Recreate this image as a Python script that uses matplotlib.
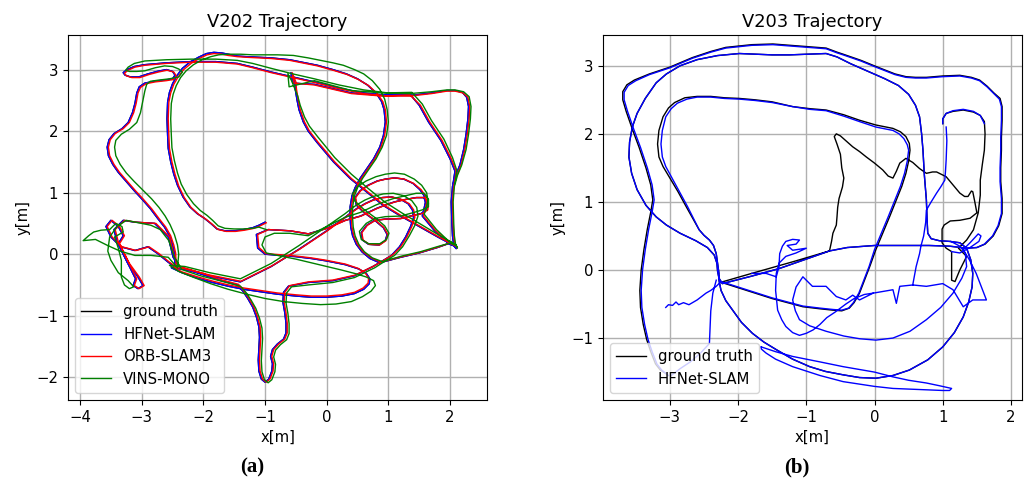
import numpy as np
import matplotlib.pyplot as plt

nan = np.nan

# ---- V202 trajectories (x, y in m) ----
v202_gt = [
    (-1.00, 0.52), (-1.10, 0.47), (-1.20, 0.43), (-1.35, 0.40), (-1.50, 0.38), (-1.65, 0.38),
    (-1.78, 0.41), (-1.88, 0.50), (-1.98, 0.58), (-2.10, 0.66), (-2.22, 0.77), (-2.33, 0.93),
    (-2.42, 1.12), (-2.48, 1.30), (-2.53, 1.50), (-2.57, 1.72), (-2.58, 1.93), (-2.59, 2.20),
    (-2.58, 2.47), (-2.55, 2.63), (-2.50, 2.77), (-2.43, 2.90), (-2.34, 3.02), (-2.22, 3.12),
    (-2.08, 3.20), (-1.95, 3.26), (-1.83, 3.28), (-1.70, 3.27), (-1.60, 3.25), (-1.45, 3.22),
    (-1.30, 3.21), (-1.10, 3.20), (-0.90, 3.19), (-0.60, 3.16), (-0.40, 3.12), (-0.15, 3.07),
    (0.10, 3.00), (0.32, 2.93), (0.50, 2.85), (0.66, 2.75), (0.80, 2.62), (0.89, 2.48),
    (0.93, 2.35), (0.95, 2.15), (0.92, 1.93), (0.86, 1.74), (0.76, 1.55), (0.65, 1.39),
    (0.54, 1.23), (0.46, 1.08), (0.41, 0.95), (0.38, 0.77), (0.38, 0.58), (0.39, 0.44),
    (0.42, 0.30), (0.48, 0.16), (0.57, 0.04), (0.70, -0.07), (0.86, -0.14),
    (1.20, -0.05), (1.50, 0.02), (1.80, 0.11), (1.97, 0.17), (2.08, 0.13), (2.10, 0.09),
    (2.06, 0.14), (2.04, 0.30), (2.03, 0.50), (2.02, 0.85), (2.04, 1.10), (2.09, 1.28),
    (2.16, 1.45), (2.22, 1.70), (2.26, 1.95), (2.29, 2.20), (2.30, 2.40), (2.27, 2.55),
    (2.20, 2.63), (2.08, 2.66), (1.95, 2.66), (1.70, 2.62), (1.35, 2.58), (1.00, 2.58),
    (0.60, 2.62), (0.20, 2.70), (-0.20, 2.80), (-0.55, 2.88), (-0.90, 2.96), (-1.20, 3.04),
    (-1.45, 3.10), (-1.80, 3.13), (-2.20, 3.13), (-2.60, 3.11), (-2.95, 3.08),
    (-3.12, 3.05), (-3.24, 3.00), (-3.30, 2.95), (-3.27, 2.91), (-3.18, 2.88), (-3.05, 2.88),
    (-2.90, 2.93), (-2.75, 2.97), (-2.60, 3.00), (-2.50, 2.97), (-2.46, 2.91), (-2.50, 2.85),
    (-2.62, 2.83), (-2.80, 2.81), (-2.95, 2.78), (-3.04, 2.72), (-3.08, 2.62), (-3.11, 2.45),
    (-3.15, 2.30), (-3.22, 2.14), (-3.32, 2.04), (-3.45, 1.96), (-3.53, 1.86), (-3.56, 1.74),
    (-3.54, 1.60), (-3.47, 1.46), (-3.38, 1.33), (-3.25, 1.18), (-3.12, 1.03), (-3.00, 0.90),
    (-2.86, 0.74), (-2.74, 0.58), (-2.63, 0.44), (-2.55, 0.30), (-2.50, 0.15), (-2.47, 0.02),
    (-2.46, -0.21),
    (-2.57, -0.13), (-2.74, 0.01), (-2.90, 0.12), (-3.11, 0.06), (-3.34, 0.12), (-3.50, 0.28),
    (-3.58, 0.45), (-3.50, 0.55), (-3.38, 0.45), (-3.30, 0.30), (-3.38, 0.17), (-3.22, -0.15),
    (-3.06, -0.37), (-2.98, -0.51), (-3.06, -0.56), (-3.14, -0.51), (-3.10, -0.40), (-3.25, -0.10),
    (-3.40, 0.20), (-3.45, 0.40), (-3.30, 0.55), (-3.11, 0.52), (-2.79, 0.50), (-2.57, 0.28),
    (-2.49, -0.05), (-2.40, -0.20),
    (-2.10, -0.30), (-1.75, -0.42), (-1.45, -0.50), (-1.36, -0.60), (-1.28, -0.72), (-1.20, -0.86),
    (-1.14, -1.02), (-1.10, -1.18), (-1.09, -1.35), (-1.10, -1.55), (-1.11, -1.72), (-1.10, -1.90),
    (-1.06, -2.03), (-1.00, -2.08), (-0.94, -2.03), (-0.89, -1.90), (-0.88, -1.78), (-0.91, -1.66),
    (-0.88, -1.55), (-0.80, -1.46), (-0.70, -1.38), (-0.66, -1.28), (-0.66, -1.12), (-0.68, -0.95),
    (-0.71, -0.78), (-0.70, -0.62), (-0.62, -0.52), (-0.30, -0.46), (0.10, -0.43), (0.45, -0.35),
    (0.75, -0.20), (0.92, -0.10), (1.05, -0.02), (1.18, 0.12), (1.28, 0.28), (1.36, 0.45),
    (1.41, 0.60), (1.39, 0.72), (1.32, 0.82), (1.20, 0.89), (1.05, 0.93), (0.90, 0.92),
    (0.75, 0.88), (0.62, 0.82), (0.50, 0.75), (0.40, 0.68), (0.30, 0.60), (0.00, 0.38),
    (-0.45, 0.08), (-0.90, -0.20), (-1.40, -0.45), (-1.90, -0.35), (-2.30, -0.25), (-2.52, -0.22),
    (-2.35, -0.30), (-2.10, -0.39), (-1.85, -0.46), (-1.60, -0.52), (-1.35, -0.57), (-1.08, -0.61),
    (-0.80, -0.65), (-0.50, -0.68), (-0.25, -0.70), (0.00, -0.70), (0.25, -0.68), (0.45, -0.64),
    (0.60, -0.57), (0.69, -0.48), (0.70, -0.40), (0.64, -0.31), (0.52, -0.24), (0.30, -0.17),
    (0.00, -0.11), (-0.25, -0.07), (-0.50, -0.04), (-0.75, -0.02), (-1.00, 0.00), (-1.12, 0.10),
    (-1.14, 0.32), (-0.95, 0.40), (-0.60, 0.38), (-0.30, 0.33), (0.00, 0.42),
    (0.30, 0.55), (0.55, 0.62), (0.80, 0.74), (0.95, 0.80), (1.10, 0.85), (1.28, 0.89),
    (1.45, 0.92), (1.57, 0.92), (1.63, 0.83), (1.62, 0.72), (1.53, 0.66), (1.40, 0.63),
    (1.20, 0.58), (0.95, 0.57), (0.78, 0.55), (0.65, 0.47), (0.56, 0.35), (0.58, 0.23),
    (0.68, 0.16), (0.85, 0.15), (0.95, 0.22), (0.98, 0.32), (0.92, 0.43), (0.78, 0.55),
    (0.60, 0.68), (0.48, 0.80), (0.46, 0.92), (0.54, 1.03), (0.67, 1.12), (0.82, 1.19),
    (0.95, 1.22), (1.10, 1.24), (1.25, 1.22), (1.40, 1.15), (1.51, 1.05), (1.58, 0.95),
    (1.60, 0.84), (1.57, 0.70), (1.55, 0.62), (1.75, 0.38), (1.95, 0.20), (2.08, 0.13),
    (1.80, 0.28), (1.50, 0.45), (1.20, 0.62), (0.92, 0.79), (0.65, 1.01), (0.38, 1.23),
    (0.11, 1.50), (-0.16, 1.82), (-0.30, 2.00), (-0.38, 2.15), (-0.45, 2.35), (-0.48, 2.50),
    (-0.51, 2.68), (-0.52, 2.80), (-0.58, 2.95), (-0.55, 2.78),
    (-0.20, 2.76), (0.40, 2.62), (0.90, 2.58), (1.35, 2.60), (1.50, 2.42), (1.65, 2.15),
    (1.85, 1.85), (2.00, 1.55), (2.08, 1.35), (2.05, 1.15),
]

# HFNet-SLAM sits on the ground truth at this scale
v202_hfnet = list(v202_gt)

v202_orb = [
    (-0.98, 0.51), (-1.08, 0.46), (-1.18, 0.42), (-1.33, 0.39), (-1.48, 0.37), (-1.63, 0.37),
    (-1.76, 0.40), (-1.86, 0.49), (-1.96, 0.57), (-2.08, 0.65), (-2.20, 0.76), (-2.31, 0.92),
    (-2.40, 1.11), (-2.46, 1.30), (-2.51, 1.50), (-2.55, 1.72), (-2.56, 1.93), (-2.57, 2.20),
    (-2.56, 2.47), (-2.53, 2.62), (-2.48, 2.76), (-2.41, 2.88), (-2.32, 3.00), (-2.20, 3.10),
    (-2.07, 3.18), (-1.94, 3.24), (-1.83, 3.26), (-1.70, 3.25), (-1.60, 3.23), (-1.45, 3.21),
    (-1.30, 3.20), (-1.10, 3.19), (-0.90, 3.18), (-0.60, 3.15), (-0.40, 3.11), (-0.15, 3.06),
    (0.10, 2.99), (0.33, 2.92), (0.51, 2.84), (0.68, 2.74), (0.82, 2.61), (0.91, 2.48),
    (0.95, 2.35), (0.97, 2.15), (0.94, 1.93), (0.88, 1.74), (0.78, 1.55), (0.67, 1.39),
    (0.56, 1.23), (0.48, 1.08), (0.43, 0.95), (0.40, 0.77), (0.40, 0.58), (0.41, 0.44),
    (0.44, 0.30), (0.50, 0.16), (0.59, 0.04), (0.72, -0.06), (0.88, -0.13),
    (1.22, -0.04), (1.52, 0.03), (1.82, 0.12), (1.99, 0.18), (2.10, 0.14), (2.12, 0.10),
    (2.08, 0.15), (2.06, 0.30), (2.05, 0.50), (2.04, 0.85), (2.06, 1.10), (2.11, 1.28),
    (2.18, 1.45), (2.24, 1.70), (2.28, 1.95), (2.31, 2.20), (2.32, 2.40), (2.29, 2.55),
    (2.21, 2.62), (2.08, 2.65), (1.95, 2.65), (1.70, 2.61), (1.35, 2.57), (1.00, 2.57),
    (0.60, 2.61), (0.20, 2.69), (-0.20, 2.79), (-0.55, 2.87), (-0.90, 2.95), (-1.20, 3.03),
    (-1.45, 3.09), (-1.80, 3.12), (-2.20, 3.12), (-2.60, 3.10), (-2.95, 3.07),
    (-3.11, 3.04), (-3.22, 2.99), (-3.28, 2.94), (-3.25, 2.90), (-3.16, 2.87), (-3.03, 2.87),
    (-2.88, 2.92), (-2.73, 2.96), (-2.59, 2.99), (-2.48, 2.96), (-2.44, 2.90), (-2.48, 2.84),
    (-2.60, 2.82), (-2.78, 2.80), (-2.93, 2.77), (-3.02, 2.71), (-3.06, 2.62), (-3.09, 2.45),
    (-3.13, 2.30), (-3.20, 2.14), (-3.30, 2.04), (-3.43, 1.96), (-3.51, 1.86), (-3.54, 1.74),
    (-3.52, 1.60), (-3.45, 1.46), (-3.36, 1.33), (-3.23, 1.18), (-3.10, 1.03), (-2.98, 0.90),
    (-2.84, 0.74), (-2.72, 0.58), (-2.61, 0.44), (-2.53, 0.30), (-2.48, 0.15), (-2.45, 0.02),
    (-2.44, -0.21),
    (-2.55, -0.13), (-2.72, 0.01), (-2.88, 0.12), (-3.09, 0.06), (-3.32, 0.12), (-3.48, 0.28),
    (-3.56, 0.45), (-3.48, 0.55), (-3.36, 0.45), (-3.28, 0.30), (-3.36, 0.17), (-3.20, -0.15),
    (-3.04, -0.37), (-2.96, -0.51), (-3.04, -0.56), (-3.12, -0.51), (-3.08, -0.40), (-3.23, -0.10),
    (-3.38, 0.20), (-3.43, 0.40), (-3.28, 0.55), (-3.09, 0.52), (-2.77, 0.50), (-2.55, 0.28),
    (-2.47, -0.05), (-2.38, -0.20),
    (-2.08, -0.29), (-1.73, -0.41), (-1.43, -0.49), (-1.34, -0.60), (-1.26, -0.72), (-1.18, -0.86),
    (-1.12, -1.02), (-1.08, -1.18), (-1.07, -1.35), (-1.08, -1.55), (-1.09, -1.72), (-1.08, -1.90),
    (-1.04, -2.03), (-0.98, -2.08), (-0.92, -2.03), (-0.87, -1.90), (-0.86, -1.78), (-0.89, -1.66),
    (-0.86, -1.55), (-0.78, -1.46), (-0.68, -1.38), (-0.64, -1.28), (-0.64, -1.12), (-0.66, -0.95),
    (-0.69, -0.78), (-0.68, -0.62), (-0.60, -0.51), (-0.30, -0.45), (0.10, -0.42), (0.46, -0.34),
    (0.77, -0.19), (0.94, -0.09), (1.07, -0.01), (1.20, 0.12), (1.30, 0.28), (1.38, 0.45),
    (1.43, 0.60), (1.41, 0.72), (1.34, 0.82), (1.21, 0.89), (1.06, 0.93), (0.91, 0.92),
    (0.76, 0.88), (0.63, 0.82), (0.51, 0.75), (0.41, 0.68), (0.31, 0.60), (0.01, 0.38),
    (-0.44, 0.08), (-0.89, -0.19), (-1.39, -0.44), (-1.89, -0.34), (-2.29, -0.24), (-2.50, -0.21),
    (-2.34, -0.29), (-2.09, -0.37), (-1.84, -0.44), (-1.59, -0.50), (-1.34, -0.55), (-1.07, -0.59),
    (-0.80, -0.63), (-0.50, -0.66), (-0.25, -0.68), (0.00, -0.68), (0.25, -0.66), (0.45, -0.62),
    (0.59, -0.55), (0.67, -0.47), (0.68, -0.39), (0.62, -0.30), (0.51, -0.23), (0.30, -0.16),
    (0.00, -0.10), (-0.25, -0.06), (-0.50, -0.03), (-0.75, -0.01), (-0.99, 0.01), (-1.10, 0.11),
    (-1.12, 0.32), (-0.94, 0.40), (-0.59, 0.38), (-0.29, 0.33), (0.01, 0.42),
    (0.31, 0.55), (0.56, 0.62), (0.81, 0.74), (0.96, 0.80), (1.11, 0.85), (1.29, 0.89),
    (1.46, 0.92), (1.59, 0.92), (1.65, 0.83), (1.64, 0.72), (1.55, 0.66), (1.41, 0.63),
    (1.21, 0.58), (0.96, 0.57), (0.79, 0.55), (0.66, 0.47), (0.57, 0.35), (0.59, 0.23),
    (0.69, 0.16), (0.86, 0.15), (0.96, 0.22), (0.99, 0.32), (0.93, 0.43), (0.79, 0.55),
    (0.61, 0.68), (0.49, 0.80), (0.47, 0.92), (0.55, 1.03), (0.68, 1.12), (0.83, 1.19),
    (0.96, 1.22), (1.11, 1.24), (1.26, 1.22), (1.41, 1.15), (1.53, 1.05), (1.60, 0.95),
    (1.62, 0.84), (1.59, 0.70), (1.57, 0.62), (1.77, 0.38), (1.97, 0.20), (2.10, 0.13),
    (1.82, 0.28), (1.52, 0.45), (1.22, 0.62), (0.94, 0.79), (0.67, 1.01), (0.40, 1.23),
    (0.13, 1.50), (-0.14, 1.82), (-0.28, 2.00), (-0.36, 2.15), (-0.43, 2.35), (-0.46, 2.50),
    (-0.49, 2.68), (-0.50, 2.80), (-0.56, 2.95), (-0.53, 2.78),
    (-0.20, 2.75), (0.40, 2.61), (0.90, 2.57), (1.35, 2.59), (1.52, 2.42), (1.67, 2.15),
    (1.87, 1.85), (2.02, 1.55), (2.10, 1.35), (2.07, 1.15),
]

v202_vins = [
    (-0.98, 0.40), (-1.10, 0.44), (-1.20, 0.42), (-1.35, 0.41), (-1.50, 0.41), (-1.65, 0.42),
    (-1.76, 0.46), (-1.85, 0.55), (-1.94, 0.63), (-2.05, 0.71), (-2.16, 0.82), (-2.27, 0.97),
    (-2.36, 1.14), (-2.42, 1.32), (-2.47, 1.52), (-2.51, 1.73), (-2.52, 1.94), (-2.53, 2.20),
    (-2.52, 2.45), (-2.49, 2.60), (-2.44, 2.74), (-2.37, 2.87), (-2.28, 2.98), (-2.16, 3.08),
    (-2.02, 3.16), (-1.88, 3.21), (-1.75, 3.24), (-1.60, 3.25), (-1.40, 3.25), (-1.20, 3.24),
    (-1.00, 3.24), (-0.80, 3.24), (-0.54, 3.23), (-0.30, 3.19), (-0.10, 3.15), (0.10, 3.11),
    (0.27, 3.07), (0.45, 3.00), (0.60, 2.93), (0.74, 2.82), (0.86, 2.68), (0.94, 2.52),
    (0.98, 2.35), (1.00, 2.15), (0.97, 1.93), (0.90, 1.74), (0.80, 1.55), (0.69, 1.39),
    (0.58, 1.23), (0.50, 1.08), (0.45, 0.95), (0.42, 0.77), (0.42, 0.58), (0.43, 0.44),
    (0.46, 0.30), (0.52, 0.16), (0.61, 0.04), (0.74, -0.06), (0.90, -0.12),
    (1.22, -0.03), (1.52, 0.04), (1.82, 0.13), (2.00, 0.18), (2.10, 0.14), (2.12, 0.10),
    (2.09, 0.16), (2.07, 0.30), (2.06, 0.50), (2.05, 0.85), (2.07, 1.10), (2.12, 1.28),
    (2.19, 1.45), (2.26, 1.70), (2.30, 1.95), (2.33, 2.20), (2.34, 2.40), (2.31, 2.56),
    (2.22, 2.64), (2.08, 2.67), (1.95, 2.67), (1.70, 2.64), (1.35, 2.61), (1.00, 2.62),
    (0.60, 2.67), (0.20, 2.75), (-0.20, 2.85), (-0.55, 2.93), (-0.90, 3.02), (-1.20, 3.10),
    (-1.45, 3.15), (-1.80, 3.17), (-2.20, 3.17), (-2.60, 3.16), (-2.95, 3.14),
    (-3.12, 3.10), (-3.22, 3.04), (-3.26, 2.99), (-3.20, 2.97), (-3.08, 2.97), (-2.95, 2.98),
    (-2.78, 3.03), (-2.63, 3.06), (-2.50, 3.05), (-2.40, 3.01), (-2.34, 2.96), (-2.40, 2.88),
    (-2.55, 2.85), (-2.72, 2.83), (-2.86, 2.81), (-2.92, 2.76), (-2.95, 2.65), (-2.98, 2.50),
    (-3.02, 2.30), (-3.08, 2.14), (-3.20, 2.03), (-3.33, 1.95), (-3.42, 1.85), (-3.44, 1.74),
    (-3.42, 1.60), (-3.35, 1.46), (-3.25, 1.32), (-3.12, 1.18), (-2.98, 1.04), (-2.84, 0.90),
    (-2.72, 0.76), (-2.62, 0.62), (-2.54, 0.48), (-2.47, 0.32), (-2.42, 0.15), (-2.40, 0.00),
    (-2.42, -0.22),
    (-2.57, -0.05), (-2.85, -0.02), (-3.11, -0.02), (-3.35, 0.05), (-3.55, 0.14), (-3.75, 0.24),
    (-3.95, 0.22), (-3.86, 0.30), (-3.78, 0.36), (-3.66, 0.39), (-3.52, 0.40), (-3.42, 0.50),
    (-3.32, 0.45), (-3.30, 0.36), (-3.44, 0.28), (-3.38, 0.10), (-3.33, -0.10), (-3.33, -0.37),
    (-3.28, -0.50), (-3.20, -0.56), (-3.13, -0.53), (-3.22, -0.43), (-3.38, -0.30), (-3.50, -0.10),
    (-3.55, 0.05), (-3.52, 0.28), (-3.40, 0.45), (-3.25, 0.55), (-3.05, 0.51), (-2.85, 0.47),
    (-2.70, 0.40), (-2.56, 0.22), (-2.47, -0.05), (-2.35, -0.25),
    (-2.05, -0.35), (-1.70, -0.44), (-1.40, -0.52), (-1.31, -0.62), (-1.23, -0.74), (-1.15, -0.88),
    (-1.09, -1.04), (-1.05, -1.20), (-1.04, -1.37), (-1.05, -1.56), (-1.06, -1.73), (-1.05, -1.91),
    (-1.01, -2.04), (-0.95, -2.09), (-0.89, -2.04), (-0.84, -1.91), (-0.83, -1.79), (-0.86, -1.67),
    (-0.83, -1.56), (-0.75, -1.47), (-0.65, -1.39), (-0.61, -1.29), (-0.61, -1.13), (-0.63, -0.96),
    (-0.66, -0.79), (-0.65, -0.63), (-0.57, -0.53), (-0.30, -0.50), (0.10, -0.46), (0.45, -0.38),
    (0.78, -0.22), (0.95, -0.11), (1.10, -0.02), (1.23, 0.12), (1.34, 0.30), (1.43, 0.47),
    (1.48, 0.62), (1.46, 0.76), (1.38, 0.87), (1.25, 0.95), (1.08, 0.99), (0.92, 0.98),
    (0.76, 0.94), (0.62, 0.88), (0.50, 0.81), (0.40, 0.74), (0.30, 0.66), (0.00, 0.45),
    (-0.45, 0.14), (-0.90, -0.15), (-1.40, -0.40), (-1.90, -0.30), (-2.30, -0.20), (-2.55, -0.18),
    (-2.40, -0.28), (-2.15, -0.38), (-1.88, -0.48), (-1.60, -0.57), (-1.30, -0.65), (-1.00, -0.72),
    (-0.70, -0.77), (-0.40, -0.80), (-0.10, -0.82), (0.15, -0.81), (0.40, -0.77), (0.58, -0.69),
    (0.72, -0.60), (0.79, -0.51), (0.76, -0.43), (0.64, -0.37), (0.48, -0.32), (0.25, -0.26),
    (0.00, -0.20), (-0.25, -0.14), (-0.50, -0.08), (-0.75, -0.03), (-0.98, 0.02), (-1.05, 0.15),
    (-1.00, 0.28), (-0.85, 0.34), (-0.60, 0.34), (-0.30, 0.30), (0.00, 0.45),
    (0.30, 0.60), (0.55, 0.68), (0.80, 0.80), (0.95, 0.86), (1.10, 0.91), (1.28, 0.95),
    (1.45, 0.99), (1.58, 0.99), (1.65, 0.89), (1.65, 0.77), (1.55, 0.72), (1.42, 0.68),
    (1.20, 0.62), (0.95, 0.61), (0.78, 0.58), (0.64, 0.50), (0.53, 0.37), (0.56, 0.24),
    (0.68, 0.17), (0.86, 0.17), (0.97, 0.24), (1.01, 0.34), (0.94, 0.46), (0.79, 0.59),
    (0.60, 0.73), (0.46, 0.86), (0.42, 0.98), (0.50, 1.10), (0.64, 1.19), (0.80, 1.26),
    (0.95, 1.30), (1.10, 1.32), (1.26, 1.30), (1.42, 1.22), (1.54, 1.12), (1.62, 1.00),
    (1.64, 0.88), (1.61, 0.73), (1.58, 0.65), (1.78, 0.40), (1.97, 0.22), (2.10, 0.15),
    (1.82, 0.31), (1.52, 0.49), (1.22, 0.67), (0.94, 0.85), (0.67, 1.07), (0.40, 1.30),
    (0.13, 1.57), (-0.14, 1.90), (-0.28, 2.08), (-0.36, 2.23), (-0.43, 2.42), (-0.47, 2.57),
    (-0.53, 2.72), (-0.57, 2.82), (-0.63, 2.93), (-0.61, 2.72),
    (-0.20, 2.82), (0.40, 2.66), (0.90, 2.62), (1.38, 2.63), (1.55, 2.44), (1.70, 2.17),
    (1.90, 1.87), (2.04, 1.57), (2.11, 1.36), (2.08, 1.15),
]

# ---- V203 trajectories ----
v203_gt = [
    (-3.06, -1.52), (-3.14, -1.47), (-3.21, -1.38), (-3.28, -1.20), (-3.34, -1.02), (-3.39, -0.80),
    (-3.43, -0.55), (-3.44, -0.30), (-3.42, 0.00), (-3.38, 0.30), (-3.33, 0.60), (-3.28, 0.85),
    (-3.25, 1.03), (-3.28, 1.25), (-3.35, 1.50), (-3.45, 1.80), (-3.55, 2.07), (-3.64, 2.33),
    (-3.69, 2.50), (-3.69, 2.62), (-3.63, 2.72), (-3.52, 2.79), (-3.30, 2.88), (-3.00, 2.98),
    (-2.67, 3.12), (-2.40, 3.21), (-2.18, 3.27), (-1.80, 3.31), (-1.49, 3.32), (-1.10, 3.29),
    (-0.71, 3.26), (-0.55, 3.20), (-0.46, 3.17), (-0.20, 3.08), (0.02, 2.99), (0.30, 2.88),
    (0.46, 2.84), (0.60, 2.83), (0.76, 2.83), (1.00, 2.85), (1.25, 2.86), (1.42, 2.83),
    (1.54, 2.79), (1.65, 2.70), (1.75, 2.60), (1.84, 2.52), (1.87, 2.40), (1.87, 2.20),
    (1.86, 1.95), (1.86, 1.76), (1.85, 1.50), (1.85, 1.30), (1.87, 1.05), (1.87, 0.83),
    (1.82, 0.65), (1.74, 0.50), (1.62, 0.38), (1.50, 0.33), (1.35, 0.32),
    (1.10, 0.35), (0.80, 0.36), (0.40, 0.36), (0.00, 0.36), (-0.40, 0.33), (-0.66, 0.28),
    (-1.00, 0.16), (-1.40, 0.02), (-1.80, -0.09), (-2.23, -0.20),
    (-2.28, -0.12), (-2.30, -0.02), (-2.31, 0.10), (-2.35, 0.22), (-2.45, 0.33), (-2.62, 0.43),
    (-2.85, 0.54), (-3.05, 0.66), (-3.20, 0.78), (-3.35, 0.95), (-3.48, 1.18), (-3.56, 1.42),
    (-3.60, 1.66), (-3.59, 1.88), (-3.55, 2.10), (-3.48, 2.30), (-3.36, 2.52), (-3.20, 2.75),
    (-3.05, 2.88), (-2.85, 3.00), (-2.60, 3.09), (-2.30, 3.15), (-1.98, 3.18), (-1.75, 3.17),
    (-1.50, 3.16), (-1.25, 3.16), (-1.00, 3.17), (-0.71, 3.18), (-0.55, 3.13), (-0.35, 3.03),
    (-0.10, 2.92), (0.15, 2.81), (0.35, 2.71), (0.50, 2.58), (0.60, 2.42), (0.66, 2.25),
    (0.69, 2.00), (0.71, 1.76), (0.73, 1.40), (0.76, 1.03), (0.77, 0.75), (0.78, 0.54),
    (0.83, 0.46), (0.95, 0.43), (1.10, 0.42), (1.25, 0.40), (1.35, 0.32), (1.41, 0.15),
    (1.44, -0.05), (1.43, -0.25), (1.38, -0.47), (1.30, -0.69), (1.17, -0.92), (1.00, -1.13),
    (0.78, -1.32), (0.51, -1.47), (0.27, -1.55), (0.02, -1.59), (-0.22, -1.58), (-0.46, -1.54),
    (-0.72, -1.49), (-0.95, -1.42), (-1.20, -1.31), (-1.44, -1.17), (-1.62, -1.06), (-1.79, -0.93),
    (-1.95, -0.77), (-2.08, -0.59), (-2.18, -0.45), (-2.25, -0.30), (-2.28, -0.15),
    (-2.28, -0.05), (-2.30, 0.10), (-2.32, 0.24), (-2.36, 0.36), (-2.42, 0.44), (-2.50, 0.51),
    (-2.57, 0.59), (-2.66, 0.75), (-2.76, 0.93), (-2.88, 1.15), (-3.01, 1.37), (-3.10, 1.52),
    (-3.16, 1.66), (-3.18, 1.85), (-3.16, 2.05), (-3.10, 2.25), (-3.02, 2.38), (-2.93, 2.46),
    (-2.78, 2.53), (-2.60, 2.55), (-2.40, 2.55), (-2.20, 2.53), (-1.98, 2.52), (-1.75, 2.50),
    (-1.50, 2.47), (-1.20, 2.40), (-0.95, 2.37), (-0.71, 2.35), (-0.45, 2.28), (-0.22, 2.20),
    (0.02, 2.13), (0.27, 2.08), (0.38, 2.03), (0.46, 1.96), (0.51, 1.86), (0.52, 1.76),
    (0.50, 1.60), (0.46, 1.42), (0.40, 1.23), (0.32, 1.03), (0.22, 0.78), (0.12, 0.54),
    (0.02, 0.30), (-0.07, 0.05), (-0.15, -0.16), (-0.22, -0.34), (-0.30, -0.48), (-0.37, -0.56),
    (-0.48, -0.60), (-0.61, -0.59), (-0.80, -0.57), (-1.05, -0.54), (-1.50, -0.42), (-2.00, -0.26),
    (-2.25, -0.18), (-1.80, -0.05), (-1.20, 0.12), (-0.66, 0.28),
    (-0.63, 0.42), (-0.61, 0.54), (-0.56, 0.66), (-0.55, 0.78), (-0.54, 0.92), (-0.52, 1.05),
    (-0.47, 1.22), (-0.45, 1.35), (-0.48, 1.50), (-0.50, 1.70), (-0.55, 1.85), (-0.59, 1.96),
    (-0.56, 2.00), (-0.50, 1.97), (-0.40, 1.88), (-0.32, 1.81), (-0.22, 1.74), (-0.12, 1.66),
    (0.00, 1.57), (0.12, 1.47), (0.20, 1.38), (0.27, 1.35), (0.32, 1.45), (0.37, 1.57),
    (0.46, 1.64), (0.56, 1.58), (0.66, 1.49), (0.76, 1.42), (0.85, 1.44), (0.91, 1.44),
    (1.05, 1.37), (1.15, 1.25), (1.25, 1.13), (1.32, 1.08), (1.37, 1.08), (1.42, 1.16),
    (1.44, 1.15), (1.47, 1.00), (1.50, 0.84), (1.40, 0.76), (1.25, 0.73), (1.11, 0.72),
    (1.02, 0.66), (0.99, 0.60), (0.99, 0.40), (1.05, 0.32), (1.13, 0.27), (1.13, 0.10),
    (1.13, -0.15), (1.18, -0.17), (1.25, 0.00), (1.35, 0.20), (1.23, 0.32), (1.35, 0.44),
    (1.45, 0.59), (1.52, 0.84), (1.55, 1.10), (1.55, 1.32), (1.58, 1.55), (1.61, 1.76),
    (1.62, 2.00), (1.61, 2.18), (1.55, 2.27), (1.45, 2.32), (1.30, 2.35), (1.15, 2.33),
    (1.05, 2.30), (1.00, 2.22), (1.00, 2.15),
]

v203_hfnet = [
    (-3.02, -1.55), (-3.12, -1.47), (-3.19, -1.38), (-3.26, -1.20), (-3.32, -1.02), (-3.37, -0.80),
    (-3.41, -0.55), (-3.42, -0.30), (-3.40, 0.00), (-3.36, 0.30), (-3.31, 0.60), (-3.26, 0.85),
    (-3.23, 1.03), (-3.26, 1.25), (-3.33, 1.50), (-3.43, 1.80), (-3.53, 2.07), (-3.62, 2.33),
    (-3.67, 2.50), (-3.67, 2.61), (-3.61, 2.71), (-3.50, 2.78), (-3.30, 2.87), (-3.00, 2.97),
    (-2.67, 3.11), (-2.40, 3.20), (-2.18, 3.26), (-1.80, 3.30), (-1.49, 3.31), (-1.10, 3.28),
    (-0.71, 3.25), (-0.55, 3.19), (-0.46, 3.16), (-0.20, 3.07), (0.02, 2.98), (0.30, 2.87),
    (0.46, 2.83), (0.60, 2.82), (0.76, 2.82), (1.00, 2.84), (1.25, 2.85), (1.42, 2.82),
    (1.54, 2.78), (1.65, 2.69), (1.75, 2.59), (1.83, 2.51), (1.86, 2.40), (1.86, 2.20),
    (1.85, 1.95), (1.85, 1.76), (1.84, 1.50), (1.84, 1.30), (1.86, 1.05), (1.86, 0.83),
    (1.81, 0.65), (1.73, 0.50), (1.61, 0.38), (1.50, 0.33), (1.35, 0.32),
    (1.10, 0.35), (0.80, 0.36), (0.40, 0.36), (0.00, 0.36), (-0.40, 0.33), (-0.66, 0.28),
    (-1.00, 0.16), (-1.40, 0.02), (-1.80, -0.09), (-2.23, -0.20),
    (-2.28, -0.12), (-2.30, -0.02), (-2.31, 0.10), (-2.35, 0.22), (-2.45, 0.33), (-2.62, 0.43),
    (-2.85, 0.54), (-3.05, 0.66), (-3.20, 0.78), (-3.35, 0.95), (-3.48, 1.18), (-3.56, 1.42),
    (-3.60, 1.66), (-3.59, 1.88), (-3.55, 2.10), (-3.48, 2.30), (-3.36, 2.52), (-3.20, 2.75),
    (-3.05, 2.88), (-2.85, 3.00), (-2.60, 3.09), (-2.30, 3.15), (-1.98, 3.18), (-1.75, 3.17),
    (-1.50, 3.16), (-1.25, 3.16), (-1.00, 3.17), (-0.71, 3.18), (-0.55, 3.13), (-0.35, 3.03),
    (-0.10, 2.92), (0.15, 2.81), (0.35, 2.71), (0.50, 2.58), (0.60, 2.42), (0.66, 2.25),
    (0.69, 2.00), (0.71, 1.76), (0.73, 1.40), (0.76, 1.03), (0.77, 0.75), (0.78, 0.54),
    (0.83, 0.46), (0.95, 0.43), (1.10, 0.42), (1.25, 0.40), (1.35, 0.32), (1.41, 0.15),
    (1.44, -0.05), (1.43, -0.25), (1.38, -0.47), (1.30, -0.69), (1.17, -0.92), (1.00, -1.13),
    (0.78, -1.32), (0.51, -1.47), (0.27, -1.55), (0.02, -1.59), (-0.22, -1.58), (-0.46, -1.54),
    (-0.72, -1.49), (-0.95, -1.42), (-1.20, -1.31), (-1.44, -1.17), (-1.62, -1.06), (-1.79, -0.93),
    (-1.95, -0.77), (-2.08, -0.59), (-2.18, -0.45), (-2.25, -0.30), (-2.28, -0.15),
    (-2.28, -0.05), (-2.30, 0.10), (-2.32, 0.24), (-2.36, 0.36), (-2.42, 0.44), (-2.50, 0.51),
    (-2.57, 0.59), (-2.65, 0.75), (-2.74, 0.93), (-2.86, 1.15), (-2.98, 1.37), (-3.06, 1.52),
    (-3.11, 1.66), (-3.13, 1.85), (-3.11, 2.05), (-3.06, 2.25), (-2.98, 2.37), (-2.89, 2.45),
    (-2.75, 2.51), (-2.60, 2.54), (-2.40, 2.54), (-2.20, 2.52), (-1.98, 2.51), (-1.75, 2.49),
    (-1.50, 2.46), (-1.20, 2.40), (-0.95, 2.36), (-0.71, 2.34), (-0.45, 2.26), (-0.22, 2.18),
    (0.02, 2.10), (0.27, 2.05), (0.36, 2.00), (0.43, 1.93), (0.48, 1.84), (0.50, 1.76),
    (0.48, 1.60), (0.44, 1.42), (0.38, 1.23), (0.30, 1.03), (0.20, 0.78), (0.10, 0.54),
    (0.00, 0.30), (-0.08, 0.05), (-0.16, -0.16), (-0.23, -0.34), (-0.31, -0.48), (-0.38, -0.56),
    (-0.48, -0.59), (-0.61, -0.58), (-0.80, -0.56), (-1.05, -0.53), (-1.50, -0.41), (-2.00, -0.25),
    (-2.25, -0.17), (-2.32, -0.24), (-2.40, -0.30), (-2.47, -0.34), (-2.60, -0.44), (-2.72, -0.51),
    (-2.80, -0.48), (-2.87, -0.51), (-2.91, -0.47), (-2.96, -0.52), (-3.02, -0.51), (-3.06, -0.55),
    (nan, nan),
    (-2.32, -0.15), (-2.37, -0.34), (-2.40, -0.60), (-2.41, -0.85), (-2.42, -1.08), (-2.55, -1.22),
    (-2.70, -1.35), (-2.85, -1.45), (-2.98, -1.55),
    (nan, nan),
    (-1.80, -0.05), (-1.59, -0.05), (-1.50, -0.08), (-1.44, -0.10), (-1.40, 0.05), (-1.39, 0.24),
    (-1.35, 0.35), (-1.30, 0.42), (-1.20, 0.45), (-1.10, 0.44), (-1.15, 0.38), (-1.28, 0.36),
    (-1.20, 0.29), (-1.00, 0.32), (-1.15, 0.25), (-1.30, 0.20), (-1.40, 0.10), (-1.44, -0.05),
    (-1.45, -0.30), (-1.42, -0.59), (-1.36, -0.73), (-1.30, -0.83), (-1.20, -0.92), (-1.10, -0.96),
    (-1.00, -0.93), (-0.90, -0.88), (-0.80, -0.80), (-0.70, -0.70), (-0.58, -0.62), (-0.42, -0.50),
    (-0.30, -0.42), (-0.15, -0.36), (-0.02, -0.34),
    (nan, nan),
    (1.12, 0.42), (1.25, 0.35), (1.33, 0.25), (1.35, 0.05), (1.28, -0.12), (1.15, -0.34),
    (0.97, -0.55), (0.76, -0.73), (0.52, -0.90), (0.27, -1.00), (0.02, -1.03), (-0.22, -1.01),
    (-0.45, -0.97), (-0.71, -0.90), (-0.95, -0.82), (-1.10, -0.73), (-1.16, -0.60), (-1.20, -0.44),
    (-1.15, -0.25), (-1.05, -0.10), (-0.91, -0.24), (-0.71, -0.24), (-0.56, -0.39), (-0.42, -0.44),
    (-0.32, -0.37), (-0.22, -0.44), (-0.02, -0.34), (0.27, -0.29), (0.32, -0.49), (0.37, -0.24),
    (0.56, -0.22), (0.76, -0.24), (1.00, -0.20), (1.15, -0.29), (1.30, -0.54), (1.44, -0.44),
    (1.64, -0.44), (1.49, -0.05), (1.39, 0.15), (1.30, 0.30), (1.40, 0.40), (1.52, 0.53),
    (1.56, 0.50), (1.53, 0.42), (1.40, 0.33), (1.25, 0.25), (1.13, 0.27),
    (nan, nan),
    (1.05, 2.10), (1.06, 1.90), (1.05, 1.62), (1.04, 1.45), (1.03, 1.32), (0.97, 1.22),
    (0.91, 1.13), (0.83, 1.00), (0.76, 0.88), (0.75, 0.70), (0.72, 0.50), (0.68, 0.35),
    (0.66, 0.24), (0.61, 0.05), (0.56, -0.22),
    (nan, nan),
    (1.00, 2.15), (1.00, 2.22), (1.05, 2.30), (1.15, 2.34), (1.30, 2.36), (1.45, 2.33),
    (1.55, 2.27), (1.61, 2.15),
    (nan, nan),
    (-1.66, -1.13), (-1.45, -1.20), (-1.20, -1.27), (-0.80, -1.35), (-0.46, -1.42), (0.00, -1.50),
    (0.27, -1.57), (0.50, -1.62), (0.76, -1.66), (0.95, -1.70), (1.13, -1.74), (1.10, -1.77),
    (1.00, -1.77), (0.76, -1.76), (0.50, -1.75), (0.27, -1.74), (0.00, -1.71), (-0.46, -1.64),
    (-0.80, -1.55), (-1.20, -1.42), (-1.45, -1.31), (-1.59, -1.22), (-1.66, -1.16), (-1.66, -1.13),
]


def xy(path):
    a = np.array(path, dtype=float)
    return a[:, 0], a[:, 1]


fig = plt.figure(figsize=(10.26, 4.88), dpi=100)
ax1 = fig.add_axes([0.0663, 0.1803, 0.4084, 0.7477])
ax2 = fig.add_axes([0.5877, 0.1803, 0.4083, 0.7477])

fs = 10.7
lw = 1.0

x, y = xy(v202_gt)
ax1.plot(x, y, color='black', lw=lw, label='ground truth')
x, y = xy(v202_hfnet)
ax1.plot(x, y, color='blue', lw=lw, label='HFNet-SLAM')
x, y = xy(v202_orb)
ax1.plot(x, y, color='red', lw=lw, label='ORB-SLAM3')
x, y = xy(v202_vins)
ax1.plot(x, y, color='green', lw=lw, label='VINS-MONO')
ax1.set_xlim(-4.195, 2.60)
ax1.set_ylim(-2.37, 3.56)
ax1.set_title('V202 Trajectory', fontsize=fs * 1.2)

x, y = xy(v203_gt)
ax2.plot(x, y, color='black', lw=lw, label='ground truth')
x, y = xy(v203_hfnet)
ax2.plot(x, y, color='blue', lw=lw, label='HFNet-SLAM')
ax2.set_xlim(-3.98, 2.16)
ax2.set_ylim(-1.91, 3.45)
ax2.set_title('V203 Trajectory', fontsize=fs * 1.2)

for ax in (ax1, ax2):
    ax.grid(True, color='#b0b0b0', lw=1.0)
    ax.set_xlabel('x[m]', fontsize=fs)
    ax.set_ylabel('y[m]', fontsize=fs)
    ax.tick_params(labelsize=fs)
    ax.legend(loc='lower left', fontsize=fs)

fig.text(0.2456, 0.043, '(a)', ha='center', va='center', fontsize=15,
         fontweight='bold', family='Liberation Serif')
fig.text(0.7768, 0.043, '(b)', ha='center', va='center', fontsize=15,
         fontweight='bold', family='Liberation Serif')

fig.savefig('out.png', dpi=100)
